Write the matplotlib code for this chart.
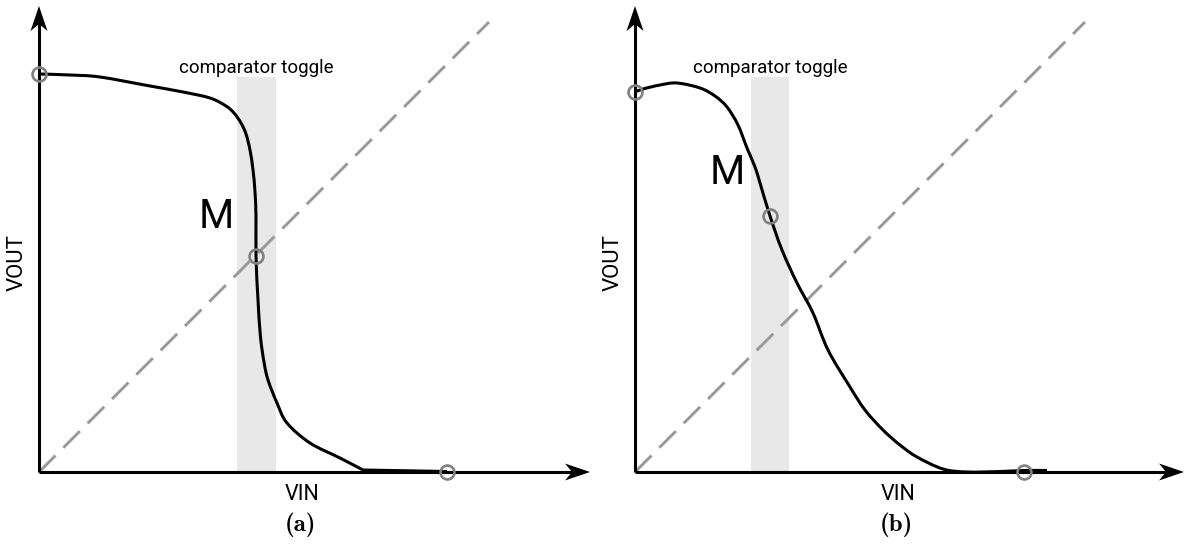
import os
import numpy as np
import matplotlib
import matplotlib.pyplot as plt
from matplotlib.patches import Polygon, Rectangle, PathPatch
from matplotlib.path import Path
from matplotlib.font_manager import FontProperties

plt.rcParams['font.family'] = ['Roboto', 'DejaVu Sans']

# transfer curves, units of 100 px of the drawing
vin_a = [0.00, 0.31, 0.61, 1.11, 1.44, 1.71, 1.87, 1.95, 2.02, 2.07, 2.11, 2.14,
         2.16, 2.17, 2.17, 2.19, 2.215, 2.25, 2.29, 2.38, 2.48, 2.71, 3.01, 3.24,
         4.08]
vout_a = [3.98, 3.97, 3.95, 3.86, 3.80, 3.74, 3.66, 3.59, 3.49, 3.38, 3.22, 3.02,
          2.80, 2.55, 2.16, 1.72, 1.35, 1.10, 0.92, 0.69, 0.49, 0.29, 0.14, 0.02,
          0.005]

vin_b = [0.00, 0.08, 0.25, 0.42, 0.65, 0.80, 0.92, 1.03, 1.12, 1.20, 1.25, 1.35,
         1.47, 1.62, 1.78, 1.93, 2.15, 2.30, 2.48, 2.65, 2.82, 3.08, 3.32, 3.65,
         3.89, 4.12]
vout_b = [3.80, 3.83, 3.87, 3.89, 3.84, 3.76, 3.65, 3.47, 3.24, 3.05, 2.89, 2.56,
          2.22, 1.89, 1.59, 1.22, 0.85, 0.62, 0.42, 0.27, 0.15, 0.03, 0.00, 0.005,
          0.015, 0.015]

# marked operating points (start, M, end)
pts_a = ([0.00, 2.17, 4.08], [3.98, 2.16, 0.00])
pts_b = ([0.00, 1.35, 3.89], [3.80, 2.56, 0.00])

toggle_a = (1.98, 2.37)
toggle_b = (1.16, 1.54)
band_top = 3.95
diag_end = 4.5

panels = [
    dict(vin=vin_a, vout=vout_a, pts=pts_a, band=toggle_a, m=(1.77, 2.55),
         label='(a)', x0=-0.39, xend=5.51, corner=23),
    dict(vin=vin_b, vout=vout_b, pts=pts_b, band=toggle_b, m=(0.925, 2.99),
         label='(b)', x0=-0.42, xend=5.49, corner=None),
]

cmb = FontProperties(fname=os.path.join(matplotlib.get_data_path(),
                                        'fonts', 'ttf', 'cmb10.ttf'), size=18)


def smooth_path(x, y, corner=None):
    # Catmull-Rom through the points, as cubic Bezier segments;
    # after `corner` the curve continues as straight segments
    xy = np.column_stack([x, y]).astype(float)
    k = len(xy) - 1 if corner is None else corner
    p = np.vstack([xy[0], xy[:k + 1], xy[k]])
    verts = [p[1]]
    codes = [Path.MOVETO]
    for i in range(1, len(p) - 2):
        c1 = p[i] + (p[i + 1] - p[i - 1]) / 6
        c2 = p[i + 1] - (p[i + 2] - p[i]) / 6
        verts += [c1, c2, p[i + 1]]
        codes += [Path.CURVE4] * 3
    for q in xy[k + 1:]:
        verts.append(q)
        codes.append(Path.LINETO)
    return Path(verts, codes)


def arrowhead(ax, tip, direction):
    # stealth style head pointing along direction
    d = np.array(direction, float)
    n = np.array([-d[1], d[0]])
    tip = np.array(tip, float)
    L, W, notch = 0.25, 0.085, 0.07
    pts = [tip, tip - L * d + W * n, tip - (L - notch) * d, tip - L * d - W * n]
    ax.add_patch(Polygon(pts, closed=True, color='black', lw=0, zorder=5))


fig = plt.figure(figsize=(11.87, 5.47), dpi=100)
w = 593 / 1187
for i, p in enumerate(panels):
    ax = fig.add_axes([i * w, 0, w if i == 0 else 1 - w, 1])
    ax.set_xlim(p['x0'], p['x0'] + (593 if i == 0 else 594) / 100)
    ax.set_ylim(-0.75, 4.72)
    ax.axis('off')

    b0, b1 = p['band']
    ax.add_patch(Rectangle((b0, 0), b1 - b0, band_top, color='#e8e8e8', lw=0, zorder=1))
    ax.text((b0 + b1) / 2, 3.99, 'comparator toggle', ha='center', va='baseline',
            fontsize=13.5, color='black')

    ax.plot([0, diag_end], [0, diag_end], color='#999999', lw=2.1,
            dashes=(8, 3.8), zorder=2)

    # axes with arrows
    ax.plot([0, p['xend'] - 0.15], [0, 0], color='black', lw=2.2, zorder=4,
            solid_capstyle='butt')
    ax.plot([0, 0], [0, 4.66 - 0.15], color='black', lw=2.2, zorder=4,
            solid_capstyle='butt')
    arrowhead(ax, (p['xend'], 0), (1, 0))
    arrowhead(ax, (0, 4.66), (0, 1))

    ax.add_patch(PathPatch(smooth_path(p['vin'], p['vout'], p['corner']),
                           fill=False, edgecolor='black', lw=2.2, zorder=3))
    ax.plot(p['pts'][0], p['pts'][1], 'o', ms=10, mfc='none', mec='#808080',
            mew=1.9, zorder=6)

    ax.text(p['m'][0], p['m'][1], 'M', ha='center', va='center', fontsize=29)
    ax.text(2.63, -0.22, 'VIN', ha='center', va='center', fontsize=15.5)
    ax.text(-0.22, 2.09, 'VOUT', ha='center', va='center', fontsize=16,
            rotation=90)
    ax.text(2.61, -0.53, p['label'], ha='center', va='center', fontproperties=cmb)

fig.savefig('out.png', dpi=100)
